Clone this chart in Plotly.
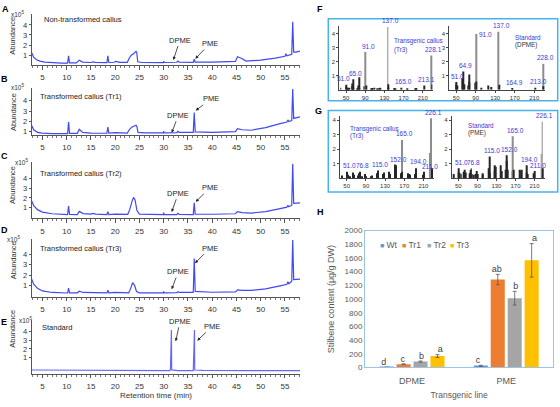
import plotly.graph_objects as go

W, H = 560, 407
FONT = "Liberation Sans, Arial, sans-serif"

# ================= DATA =================
# Chromatograms: retention time (min) vs abundance (x10^5)
rt_A = [2.8, 3.2, 3.8, 4.5, 5.5, 7.0, 9.0, 10.2, 10.4, 10.6, 12.0, 12.6, 13.3, 15.0, 15.5, 16.0,
        18.3, 18.5, 18.7, 19.8, 20.1, 21.0, 22.5, 22.9, 23.3, 23.8, 24.3, 24.45, 24.65, 25.5,
        29.9, 30.0, 30.1, 32.7, 32.9, 33.2, 36.1, 36.3, 36.5, 40.0, 44.8, 45.2, 46.0, 47.0,
        50.0, 53.0, 55.0, 55.2, 55.4, 56.4, 56.6, 56.8, 57.3, 58.1]
ab_A = [1.25, 0.8, 0.55, 0.42, 0.32, 0.26, 0.22, 0.22, 0.95, 0.25, 0.24, 0.5, 0.32, 0.28, 0.33, 0.28,
        0.26, 0.95, 0.28, 0.3, 0.38, 0.3, 0.3, 0.7, 1.0, 1.15, 1.38, 1.3, 0.35, 0.28,
        0.27, 0.4, 0.28, 0.3, 0.42, 0.32, 0.3, 0.6, 0.32, 0.32, 0.38, 0.85, 0.7, 0.42,
        0.52, 0.72, 0.9, 1.15, 0.95, 1.1, 4.3, 1.3, 1.3, 1.4]

rt_B = [2.8, 3.2, 4.0, 5.0, 7.0, 10.2, 10.4, 10.6, 12.2, 12.6, 13.3, 15.0,
        18.3, 18.5, 18.7, 20.0, 22.5, 22.9, 23.4, 24.0, 24.3, 24.5, 24.7, 26.0,
        29.9, 30.0, 30.1, 32.7, 32.9, 33.2, 36.1, 36.3, 36.5, 40.0, 44.8, 45.2, 46.2, 48.0,
        51.0, 54.0, 55.4, 55.6, 55.8, 56.4, 56.6, 56.8, 58.1]
ab_B = [1.6, 1.2, 0.95, 0.88, 0.83, 0.83, 1.95, 0.85, 0.85, 1.25, 0.95, 0.88,
        0.86, 1.45, 0.88, 0.92, 0.88, 1.2, 1.45, 1.6, 1.63, 1.5, 0.95, 0.9,
        0.9, 1.05, 0.9, 0.92, 1.04, 0.95, 0.95, 2.86, 1.0, 0.95, 1.02, 1.3, 1.2, 1.15,
        1.4, 1.8, 1.95, 2.15, 2.0, 2.1, 5.15, 2.3, 2.45]

rt_C = [2.8, 3.2, 4.0, 5.0, 7.0, 10.2, 10.4, 10.6, 12.2, 12.6, 13.4, 15.0, 15.4, 16.0,
        18.3, 18.5, 18.7, 20.0, 22.6, 23.0, 23.5, 23.8, 24.1, 24.5, 25.0,
        29.9, 30.0, 30.1, 32.7, 32.9, 33.2, 36.1, 36.3, 36.5, 40.0, 44.8, 45.2, 46.2, 48.0,
        51.0, 54.0, 55.4, 55.6, 55.8, 56.4, 56.6, 56.8, 58.1]
ab_C = [1.7, 1.2, 0.8, 0.55, 0.38, 0.3, 1.16, 0.32, 0.3, 0.62, 0.4, 0.35, 0.42, 0.35,
        0.3, 0.6, 0.3, 0.35, 0.32, 0.8, 1.7, 2.05, 1.8, 0.7, 0.35,
        0.3, 0.5, 0.32, 0.3, 0.42, 0.32, 0.3, 1.5, 0.35, 0.33, 0.38, 0.6, 0.5, 0.45,
        0.6, 0.9, 1.05, 1.25, 1.1, 1.25, 5.5, 1.45, 1.5]

rt_D = [2.8, 3.2, 4.0, 5.0, 7.0, 10.2, 10.4, 10.6, 12.2, 12.6, 13.4, 15.0,
        18.3, 18.5, 18.7, 20.0, 22.8, 23.2, 23.6, 24.0, 24.4, 25.0,
        29.9, 30.0, 30.1, 32.7, 32.9, 33.2, 36.1, 36.3, 36.5, 40.0, 44.8, 45.2, 46.2, 48.0,
        51.0, 54.0, 55.4, 55.6, 55.8, 56.4, 56.6, 56.8, 58.1]
ab_D = [1.6, 1.1, 0.7, 0.45, 0.3, 0.25, 0.72, 0.27, 0.27, 0.42, 0.3, 0.27,
        0.26, 0.52, 0.27, 0.3, 0.27, 0.7, 1.25, 1.0, 0.4, 0.27,
        0.27, 0.4, 0.27, 0.28, 0.38, 0.3, 0.3, 3.6, 0.4, 0.32, 0.36, 0.56, 0.5, 0.5,
        0.65, 0.95, 1.1, 1.35, 1.15, 1.4, 5.4, 1.55, 1.6]

rt_E = [2.8, 10.0, 20.0, 31.3, 31.4, 31.45, 31.6, 31.65, 33.0, 36.1, 36.2, 36.35, 36.4, 38.0, 50.0, 58.1]
ab_E = [-0.42, -0.45, -0.47, -0.48, -0.3, 4.19, 4.19, -0.4, -0.48, -0.48, 4.19, 4.19, -0.42, -0.47, -0.48, -0.5]

chrom_titles = ["Non-transformed callus", "Transformed callus (Tr1)", "Transformed callus (Tr2)",
                "Transformed callus (Tr3)", "Standard"]
rt_ticks = [5, 10, 15, 20, 25, 30, 35, 40, 45, 50, 55]
ab_ticks = [1, 2, 3, 4]

# Mass spectra: m/z vs abundance
mz_F1 = [39, 50, 51, 52, 55, 57, 62, 63, 64, 65, 66, 74, 76, 77, 78, 89, 91, 92, 102, 105,
         109, 115, 119, 122, 137, 138, 139, 150, 152, 165, 178, 195, 197, 213, 228, 229]
in_F1 = [0.15, 0.2, 0.35, 0.15, 0.1, 0.15, 0.25, 0.45, 0.2, 0.75, 0.15, 0.1, 0.3, 0.9, 0.15, 0.25, 2.7, 0.3, 0.1, 0.12,
         0.15, 0.1, 0.12, 0.15, 4.5, 0.4, 0.15, 0.12, 0.1, 0.15, 0.1, 0.1, 0.12, 0.3, 2.45, 0.35]
lab_F1 = {"51.0": 51, "65.0": 65, "91.0": 91, "137.0": 137, "165.0": 165, "213.1": 213, "228.1": 228}

mz_F2 = [50, 51, 52, 63, 65, 66, 74, 76, 77, 78, 89, 91, 92, 102, 115, 122, 137, 138, 165, 213, 228, 229]
in_F2 = [0.35, 0.55, 0.3, 0.8, 1.3, 0.4, 0.3, 0.6, 1.1, 0.5, 0.5, 4.0, 0.6, 0.15, 0.3, 0.2, 4.15, 0.35, 0.12, 0.15, 1.85, 0.25]
lab_F2 = {"51.0": 51, "64.9": 65, "91.0": 91, "137.0": 137, "164.9": 165, "213.0": 213, "228.0": 228}

mz_G1 = [41, 50, 51, 52, 56, 62, 63, 65, 74, 75, 76, 77, 78, 82, 87, 89, 91, 101, 102, 113,
         115, 116, 126, 127, 128, 139, 141, 150, 151, 152, 153, 163, 165, 166, 178, 180, 183, 193, 194, 195,
         208, 211, 224, 226, 227]
in_G1 = [0.2, 0.3, 0.45, 0.25, 0.15, 0.3, 0.4, 0.25, 0.2, 0.25, 0.35, 0.45, 0.2, 0.15, 0.2, 0.3, 0.15, 0.15, 0.2, 0.35,
         0.55, 0.25, 0.3, 0.4, 0.35, 0.45, 0.3, 0.35, 0.95, 0.9, 0.4, 0.35, 2.65, 0.45, 0.35, 0.3, 0.25, 0.3, 0.7, 0.2,
         0.25, 0.45, 1.75, 4.14, 0.7]
lab_G1 = {"51.0": 51, "76.8": 77, "115.0": 115, "152.0": 152, "165.0": 165, "194.0": 194, "211.0": 211, "226.1": 226}

mz_G2 = [41, 50, 51, 52, 56, 62, 63, 65, 74, 75, 76, 77, 78, 82, 87, 89, 91, 101, 102, 113,
         115, 116, 126, 127, 128, 139, 141, 150, 151, 152, 153, 163, 165, 166, 178, 180, 183, 193, 194, 195,
         208, 211, 224, 226, 227]
in_G2 = [0.3, 0.4, 0.7, 0.35, 0.3, 0.45, 0.6, 0.4, 0.35, 0.4, 0.6, 0.7, 0.3, 0.25, 0.3, 0.5, 0.3, 0.25, 0.35, 0.7,
         1.5, 0.4, 0.5, 0.9, 0.8, 0.9, 0.5, 0.6, 1.2, 1.6, 0.6, 0.5, 2.9, 0.6, 0.6, 0.5, 0.6, 0.4, 0.9, 0.3,
         0.35, 0.5, 1.7, 3.9, 0.7]
lab_G2 = {"51.0": 51, "76.8": 77, "115.0": 115, "152.0": 152, "165.0": 165, "194.0": 194, "211.0": 211, "226.1": 226}

mz_ticks = [50, 90, 130, 170, 210]

# H: stilbene content (ug/g DW)
compounds = ["DPME", "PME"]
lines = ["Wt", "Tr1", "Tr2", "Tr3"]
content_Wt = [3, 24]
content_Tr1 = [48, 1285]
content_Tr2 = [86, 1012]
content_Tr3 = [167, 1565]
err_Wt = [0, 8]
err_Tr1 = [6, 75]
err_Tr2 = [8, 100]
err_Tr3 = [20, 245]
letters_Wt = ["d", "c"]
letters_Tr1 = ["c", "ab"]
letters_Tr2 = ["b", "b"]
letters_Tr3 = ["a", "a"]

# ================= FIGURE =================
fig = go.Figure()
axes = {}
annotations = []
shapes = []


def PX(x):
    return x / W


def PY(y):
    return 1 - y / H


def set_axes(i, xpx, ypx, xrange, yrange, xkw, ykw):
    s = "" if i == 1 else str(i)
    xd = dict(domain=[PX(xpx[0]), PX(xpx[1])], anchor="y" + s, **xkw)
    yd = dict(domain=[PY(ypx[1]), PY(ypx[0])], anchor="x" + s, **ykw)
    if xrange is not None:
        xd["range"] = xrange
    if yrange is not None:
        yd["range"] = yrange
    axes["xaxis" + s] = xd
    axes["yaxis" + s] = yd
    return "x" + s, "y" + s


def text_px(text, x, y, size=7.5, color="#222", xanchor="left", bold=False, angle=0):
    if bold:
        text = "<b>" + text + "</b>"
    annotations.append(dict(text=text, x=PX(x), y=PY(y), xref="paper", yref="paper",
                            xanchor=xanchor, yanchor="middle", showarrow=False, textangle=angle,
                            font=dict(size=size, color=color, family=FONT)))


# ---- Chromatogram panels A-E ----
xkw_chrom = dict(showline=True, linecolor="#555", linewidth=1, ticks="outside", ticklen=3.5,
                 tickcolor="#555", tickwidth=1, tickvals=rt_ticks, ticklabelstandoff=1,
                 minor=dict(ticks="outside", ticklen=2, dtick=1, tick0=0, tickcolor="#777"),
                 tickfont=dict(size=8, color="#333"), showgrid=False, zeroline=False)
ykw_chrom = dict(showline=True, linecolor="#555", linewidth=1, ticks="outside", ticklen=2,
                 tickcolor="#555", tickvals=ab_ticks, tickfont=dict(size=7.5, color="#333"),
                 showgrid=False, zeroline=False)

chrom = [
    (rt_A, ab_A, (10, 62.7), [0, 5.1], "#4049f2"),
    (rt_B, ab_B, (86, 134.3), [0.66, 5.23], "#4049f2"),
    (rt_C, ab_C, (162, 219.3), [-0.1, 5.63], "#4049f2"),
    (rt_D, ab_D, (240, 299.3), [-0.11, 5.54], "#4049f2"),
    (rt_E, ab_E, (323, 378.3), [-0.87, 5.35], "#6767f5"),
]
for i, (rt, ab, ypx, yr, col) in enumerate(chrom, start=1):
    xr_, yr_ = set_axes(i, (31.7, 300), ypx, [2.8, 58.1], yr, xkw_chrom, ykw_chrom)
    fig.add_trace(go.Scatter(x=rt, y=ab, mode="lines", line=dict(color=col, width=1.2),
                             xaxis=xr_, yaxis=yr_, showlegend=False, hoverinfo="skip"))

title_pos = [(41.7, 16), (38.3, 95), (38.3, 173.5), (38.3, 250), (40, 331)]
for t, (x, y) in zip(chrom_titles, title_pos):
    text_px(t, x, y, size=7.5)

for t, x, y in [("A", 5, 5), ("B", 4, 77), ("C", 4, 155), ("D", 4, 231), ("E", 4, 325),
                ("F", 320, 5), ("G", 318, 109), ("H", 320, 213)]:
    text_px(t, x, y, size=9, color="#000", xanchor="center", bold=True)

for x, y in [(17, 10), (17, 85), (21.7, 162), (13, 240), (25.3, 323)]:
    text_px("x10<sup>5</sup>", x, y, size=6.5, color="#333", xanchor="center")

for y in [32.5, 110.5, 185, 262, 332]:
    text_px("Abundance", 13, y, size=7.5, color="#333", xanchor="center", angle=-90)

text_px("Retention time (min)", 156, 400.5, size=8, color="#333", xanchor="center")

# arrows: (label, text centre px, arrow head px)
arrows = [
    ("DPME", (180, 37.3), (173.3, 57.3)), ("PME", (210, 40.7), (195.3, 56)),
    ("PME", (211, 97.3), (195.7, 109)), ("DPME", (178.3, 114.3), (171.7, 131.7)),
    ("PME", (210, 188.3), (195.7, 202.3)), ("DPME", (178.3, 194), (171.7, 212.7)),
    ("PME", (210, 250), (195, 265)), ("DPME", (178.3, 274), (171.7, 291.7)),
    ("DPME", (180, 325), (175.7, 345)), ("PME", (212, 330), (197.3, 344.3)),
]
for lab, (tx, ty), (hx, hy) in arrows:
    annotations.append(dict(text=lab, x=PX(hx), y=PY(hy), xref="paper", yref="paper",
                            showarrow=True, ax=tx - hx, ay=ty - hy, arrowhead=2, arrowsize=0.8,
                            arrowwidth=0.8, arrowcolor="#222", standoff=0,
                            font=dict(size=7.5, color="#222", family=FONT)))

# ---- Mass spectra F, G ----
xkw_ms = dict(showline=True, linecolor="#444", linewidth=0.8, ticks="outside", ticklen=2,
              tickcolor="#444", tickvals=mz_ticks, tickfont=dict(size=6, color="#333"),
              showgrid=False, zeroline=False)
ykw_ms = dict(showline=True, linecolor="#444", linewidth=0.8, ticks="outside", ticklen=2,
              tickcolor="#444", tickvals=ab_ticks, tickfont=dict(size=6, color="#333"),
              showgrid=False, zeroline=False)
LBL_BLUE = "#3a3ad6"
# label nudges in pixels (x, y) for labels that sit beside their peak
label_shift = {(6, "51.0"): (-5, 0), (7, "91.0"): (7, -7), (7, "51.0"): (-2, 0),
               (8, "194.0"): (0, 1), (8, "211.0"): (4, -1)}
spectra = [
    (6, mz_F1, in_F1, lab_F1, (339.3, 433.3), (22, 87.7), [0, 4.6]),
    (7, mz_F2, in_F2, lab_F2, (449.3, 545), (22, 87.7), [0, 4.6]),
    (8, mz_G1, in_G1, lab_G1, (340, 434), (115, 178.3), [0, 4.27]),
    (9, mz_G2, in_G2, lab_G2, (451.7, 545), (115, 178.3), [0, 4.27]),
]
for i, mz, inten, labs, xpx, ypx, yr in spectra:
    xr_, yr_ = set_axes(i, xpx, ypx, [36, 232], yr, xkw_ms, ykw_ms)
    cols = ["#8c8c8c" if v > 1.65 else "#262626" for v in inten]
    fig.add_trace(go.Bar(x=mz, y=inten, width=1.8, marker=dict(color=cols, line=dict(width=0)),
                         xaxis=xr_, yaxis=yr_, showlegend=False, hoverinfo="skip"))
    for txt, m in labs.items():
        h = inten[mz.index(m)]
        dx, dy = label_shift.get((i, txt), (0, 0))
        annotations.append(dict(text=txt, x=m, y=h, xref=xr_, yref=yr_, xanchor="center",
                                yanchor="bottom", yshift=0.5 + dy, xshift=2.5 + dx, showarrow=False,
                                font=dict(size=6.5, color=LBL_BLUE, family=FONT)))

text_px("Transgenic callus", 392.3, 38.3, size=6.3, color=LBL_BLUE)
text_px("(Tr3)", 392.3, 46.7, size=6.3, color=LBL_BLUE)
text_px("Standard", 513.3, 34, size=6.3, color=LBL_BLUE)
text_px("(DPME)", 513.3, 42.3, size=6.3, color="#333")
text_px("Transgenic callus", 348.3, 127.7, size=6.3, color=LBL_BLUE)
text_px("(Tr3)", 348.3, 135, size=6.3, color=LBL_BLUE)
text_px("Standard", 465.7, 124.3, size=6.3, color=LBL_BLUE)
text_px("(PME)", 465.7, 131.7, size=6.3, color="#333")

BOX = "#45b4ea"
for y0, y1 in [(15, 99), (109, 192.3)]:
    shapes.append(dict(type="rect", xref="paper", yref="paper", x0=PX(328.3), x1=PX(557.7),
                       y0=PY(y1), y1=PY(y0), line=dict(color=BOX, width=1.5)))

# ---- H bar chart ----
xkw_H = dict(type="category", showline=True, mirror=True, linecolor="#9dc3e6", linewidth=1,
             ticks="", tickfont=dict(size=9, color="#595959"), ticklabelstandoff=5,
             title=dict(text="Transgenic line", font=dict(size=8.5, color="#595959"), standoff=6),
             showgrid=False, zeroline=False)
ykw_H = dict(showline=True, mirror=True, linecolor="#9dc3e6", linewidth=1, ticks="",
             dtick=200, tickfont=dict(size=8, color="#595959"),
             title=dict(text="Stilbene content (μg/g DW)", font=dict(size=9, color="#595959"), standoff=8),
             showgrid=False, zeroline=False)
xh, yh = set_axes(10, (365, 553.3), (231.7, 371.7), None, [0, 2000], xkw_H, ykw_H)

bar_colors = {"Wt": "#5b9bd5", "Tr1": "#ed7d31", "Tr2": "#a5a5a5", "Tr3": "#ffc000"}
contents = {"Wt": content_Wt, "Tr1": content_Tr1, "Tr2": content_Tr2, "Tr3": content_Tr3}
errors = {"Wt": err_Wt, "Tr1": err_Tr1, "Tr2": err_Tr2, "Tr3": err_Tr3}
letters = {"Wt": letters_Wt, "Tr1": letters_Tr1, "Tr2": letters_Tr2, "Tr3": letters_Tr3}
for ln in lines:
    fig.add_trace(go.Bar(x=compounds, y=contents[ln], name=ln, marker=dict(color=bar_colors[ln], line=dict(width=0)),
                         error_y=dict(type="data", array=errors[ln], color="#595959", thickness=0.8, width=2),
                         xaxis=xh, yaxis=yh, showlegend=False, hoverinfo="skip"))
for ln in lines:
    tops = [v + e for v, e in zip(contents[ln], errors[ln])]
    fig.add_trace(go.Scatter(x=compounds, y=tops, mode="text", text=letters[ln], orientation="v",
                             textposition="top center", textfont=dict(size=9, color="#404040", family=FONT),
                             xaxis=xh, yaxis=yh, showlegend=False, hoverinfo="skip", cliponaxis=False))

for ln, x in zip(lines, [378.3, 400, 425, 448]):
    text_px("<span style='color:%s;font-size:7px'>■</span> %s" % (bar_colors[ln], ln), x, 246.7,
            size=8.5, color="#595959")

fig.update_layout(
    width=W, height=H, margin=dict(l=0, r=0, t=0, b=0),
    paper_bgcolor="white", plot_bgcolor="white",
    font=dict(family=FONT, size=8, color="#333"),
    barmode="group", bargap=0.28, bargroupgap=0.17, scattermode="group",
    showlegend=False, annotations=annotations, shapes=shapes, **axes,
)

fig.write_html("out.html")
